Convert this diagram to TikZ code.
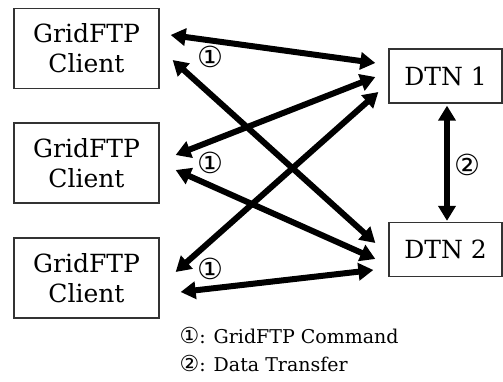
\documentclass[tikz,border=0pt]{standalone}
\usepackage{fontspec}
\setmainfont{DejaVu Serif}
\newfontfamily\circfont{DejaVu Sans}
\usetikzlibrary{arrows.meta}
\definecolor{myframe}{rgb}{0.2,0.2,0.2}

\begin{document}
\begin{tikzpicture}[x=1pt,y=-1pt,
  client/.style={draw=myframe,line width=1.3pt,minimum width=145pt,minimum height=80pt,
    inner sep=0pt,align=center,font=\fontsize{25}{30}\selectfont},
  dtn/.style={draw=myframe,line width=1.3pt,minimum width=113pt,minimum height=54pt,
    inner sep=0pt,font=\fontsize{25}{30}\selectfont},
  link/.style={line width=6pt,{Triangle[length=15pt,width=17pt]}-{Triangle[length=15pt,width=17pt]}},
  num/.style={inner sep=0pt,font=\circfont\fontsize{29}{29}\selectfont}]
  \useasboundingbox (0,0) rectangle (503,382);
  \node[client] (cl1) at (86.5,48.5) {GridFTP\\Client};
  \node[client] (cl2) at (86.5,163) {GridFTP\\Client};
  \node[client] (cl3) at (86.5,278) {GridFTP\\Client};
  \node[dtn] (dtn1) at (445.5,76) {DTN 1};
  \node[dtn] (dtn2) at (445.5,249.5) {DTN 2};
  % command links
  \draw[link] ([xshift=11pt,yshift=13.5pt]cl1.east) -- ([xshift=-13pt,yshift=13pt]dtn1.west);
  \draw[link] ([xshift=13pt,yshift=-11.5pt]cl1.east) -- ([xshift=-13pt,yshift=6.5pt]dtn2.west);
  \draw[link] ([xshift=16pt,yshift=8pt]cl2.east) -- ([xshift=-13pt,yshift=-1pt]dtn1.west);
  \draw[link] ([xshift=16pt,yshift=-7pt]cl2.east) -- ([xshift=-13pt,yshift=-9.5pt]dtn2.west);
  \draw[link] ([xshift=16pt,yshift=6pt]cl3.east) -- ([xshift=-10pt,yshift=-16pt]dtn1.west);
  \draw[link] ([xshift=21pt,yshift=-14pt]cl3.east) -- ([xshift=-15pt,yshift=-20.5pt]dtn2.west);
  % data link
  \draw[link] ([xshift=1.5pt,yshift=-2pt]dtn1.south) -- ([xshift=1.5pt,yshift=1pt]dtn2.north);
  \node[num] (m1) at (210,57) {①};
  \node[num] (m2) at (210,163) {①};
  \node[num] (m3) at (210,269) {①};
  \node[num] (m4) at (467,165) {②};
  % legend
  \node[anchor=west,font=\fontsize{19}{20}\selectfont] (leg1) at (176,336) {{\circfont\fontsize{22}{22}\selectfont ①}: GridFTP Command};
  \node[anchor=west,font=\fontsize{19}{20}\selectfont] (leg2) at (176,364) {{\circfont\fontsize{22}{22}\selectfont ②}: Data Transfer};
\end{tikzpicture}
\end{document}
